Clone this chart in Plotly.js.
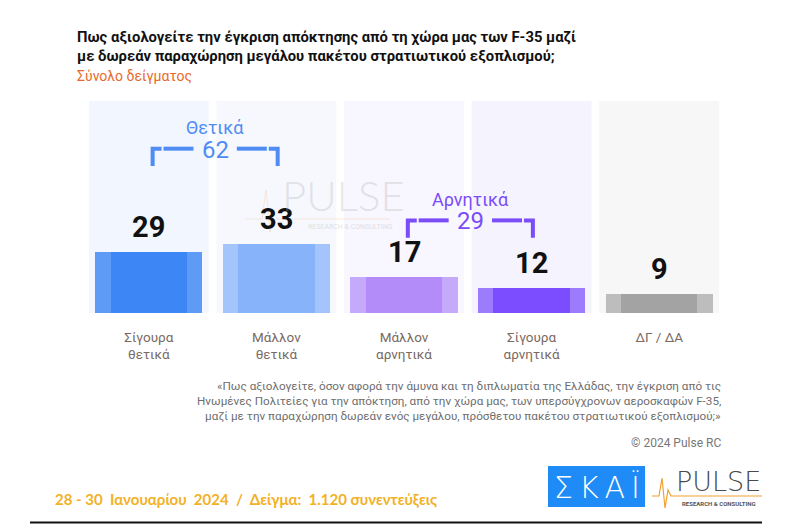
<!DOCTYPE html>
<html>
<head>
<meta charset="utf-8">
<script src="https://cdn.plot.ly/plotly-3.0.1.min.js"></script>
<style>
  html, body { margin: 0; padding: 0; background: #ffffff; }
  #chart { width: 795px; height: 526px; }
</style>
</head>
<body>
<div id="chart"></div>
<script>
// Survey answers and their shares (%)
const categories = ['Σίγουρα<br>θετικά', 'Μάλλον<br>θετικά', 'Μάλλον<br>αρνητικά', 'Σίγουρα<br>αρνητικά', 'ΔΓ / ΔΑ'];
const values = [29, 33, 17, 12, 9];

// Grouped totals shown with brackets
const groupNames = ['Θετικά', 'Αρνητικά'];
const groupTotals = [62, 29];
const groupMembers = [[0, 1], [2, 3]];

// Colours: bar centre, bar edge, column background
const barCore = ['#3D86F5', '#87B3FA', '#B38CFA', '#7C4DFF', '#A3A3A3'];
const barEdge = ['#5E9BF7', '#A3C5FB', '#C5A9FB', '#9C7BFD', '#BDBDBD'];
const columnBg = ['#F2F6FE', '#F6F8FE', '#F8F6FE', '#F5F3FE', '#F7F7F7'];
const groupColors = ['#4F8CF3', '#7A4DF8'];

// Plot frame in pixels
const W = 795, H = 526;
const M = {l: 85, r: 72, t: 101, b: 213};
const PW = W - M.l - M.r, PH = H - M.t - M.b;
const px = x => (x - M.l) / PW;          // pixel x -> paper x
const py = y => (H - M.b - y) / PH;      // pixel y -> paper y
const Y_MAX = 101.4;

const xs = categories.map((_, i) => i);

const traces = [
  {
    type: 'bar', x: xs, y: values, width: 0.84,
    marker: {color: barEdge, line: {width: 0}},
    hoverinfo: 'skip', showlegend: false
  },
  {
    type: 'bar', x: xs, y: values, width: 0.6,
    marker: {color: barCore, line: {width: 0}},
    hoverinfo: 'skip', showlegend: false
  }
];

const shapes = [];
const annotations = [];

// light background column behind each answer
xs.forEach(i => {
  shapes.push({
    type: 'rect', layer: 'below', xref: 'x', yref: 'paper',
    x0: i - 0.47, x1: i + 0.47, y0: 0, y1: 1,
    fillcolor: columnBg[i], line: {width: 0}
  });
});

// value labels above bars
values.forEach((v, i) => {
  annotations.push({
    x: i, y: v, xref: 'x', yref: 'y', text: String(v),
    showarrow: false, yanchor: 'middle', yshift: 25,
    font: {family: 'Roboto', size: 29, color: '#111111', weight: 700}
  });
});

// group brackets with totals
const bracketTop = [78.6, 44.3];
const bracketDrop = 8.3;
groupMembers.forEach((m, g) => {
  const a = m[0] + 0.03, b = m[1] + 0.01;
  const mid = (a + b) / 2;
  const yt = bracketTop[g], yb = yt - bracketDrop;
  const col = groupColors[g];
  const gapHalf = 0.17;
  const lineStyle = {color: col, width: 4};
  // left corner and dash
  shapes.push({type: 'path', xref: 'x', yref: 'y', line: lineStyle,
    path: `M ${a} ${yb} L ${a} ${yt} L ${a + 0.07} ${yt}`});
  shapes.push({type: 'line', xref: 'x', yref: 'y', line: lineStyle,
    x0: a + 0.085, x1: mid - gapHalf, y0: yt, y1: yt});
  // right dash and corner
  shapes.push({type: 'line', xref: 'x', yref: 'y', line: lineStyle,
    x0: mid + gapHalf, x1: b - 0.085, y0: yt, y1: yt});
  shapes.push({type: 'path', xref: 'x', yref: 'y', line: lineStyle,
    path: `M ${b - 0.07} ${yt} L ${b} ${yt} L ${b} ${yb}`});
  annotations.push({
    x: mid, y: yt, xref: 'x', yref: 'y', text: String(groupTotals[g]),
    showarrow: false, yanchor: 'middle', yshift: -1,
    font: {family: 'Roboto', size: 24, color: col}
  });
  annotations.push({
    x: mid, y: yt, xref: 'x', yref: 'y', text: groupNames[g],
    showarrow: false, yanchor: 'middle', yshift: 21,
    font: {family: 'Roboto', size: 18, color: col}
  });
});

// faint brand watermark over the plot
annotations.push({
  x: px(343), y: py(195), xref: 'paper', yref: 'paper', text: 'PULSE',
  showarrow: false, xanchor: 'center', yanchor: 'middle',
  font: {family: 'Lato', size: 42, color: 'rgba(170,170,170,0.30)', weight: 300}
});
annotations.push({
  x: px(350), y: py(227), xref: 'paper', yref: 'paper', text: 'RESEARCH & CONSULTING',
  showarrow: false, xanchor: 'center', yanchor: 'middle',
  font: {family: 'Roboto', size: 7, color: 'rgba(170,170,170,0.35)'}
});
shapes.push({
  type: 'path', xref: 'paper', yref: 'paper',
  line: {color: 'rgba(240,150,60,0.18)', width: 1},
  path: `M ${px(245)} ${py(219)} L ${px(262)} ${py(219)} L ${px(266)} ${py(190)} L ${px(270)} ${py(232)} L ${px(273)} ${py(212)} L ${px(277)} ${py(219)} L ${px(390)} ${py(219)}`
});

// title and subtitle
annotations.push({
  x: px(75), y: py(47), xref: 'paper', yref: 'paper', xanchor: 'left', yanchor: 'middle', align: 'left',
  text: 'Πως αξιολογείτε την έγκριση απόκτησης από τη χώρα μας των F-35 μαζί<br>με δωρεάν παραχώρηση μεγάλου πακέτου στρατιωτικού εξοπλισμού;',
  showarrow: false, font: {family: 'Roboto', size: 14.8, color: '#111111', weight: 700}
});
annotations.push({
  x: px(75), y: py(76), xref: 'paper', yref: 'paper', xanchor: 'left', yanchor: 'middle',
  text: 'Σύνολο δείγματος', showarrow: false,
  font: {family: 'Roboto', size: 14, color: '#E8692A'}
});

// question wording, right aligned
const noteLines = [
  '«Πως αξιολογείτε, όσον αφορά την άμυνα και τη διπλωματία της Ελλάδας, την έγκριση από τις',
  'Ηνωμένες Πολιτείες για την απόκτηση, από την χώρα μας, των υπερσύγχρονων αεροσκαφών F-35,',
  'μαζί με την παραχώρηση δωρεάν ενός μεγάλου, πρόσθετου πακέτου στρατιωτικού εξοπλισμού;»'
];
noteLines.forEach((t, k) => {
  annotations.push({
    x: px(723), y: py(386 + 15 * k), xref: 'paper', yref: 'paper', xanchor: 'right', yanchor: 'middle',
    text: t, showarrow: false, font: {family: 'Roboto', size: 11.7, color: '#6E6E6E'}
  });
});
annotations.push({
  x: px(723), y: py(443), xref: 'paper', yref: 'paper', xanchor: 'right', yanchor: 'middle',
  text: '© 2024 Pulse RC', showarrow: false, font: {family: 'Roboto', size: 12, color: '#777777'}
});

// fieldwork dates and sample size
annotations.push({
  x: px(53), y: py(499), xref: 'paper', yref: 'paper', xanchor: 'left', yanchor: 'middle',
  text: '28 - 30\u00a0 Ιανουαρίου\u00a0 2024\u00a0 /\u00a0 Δείγμα:\u00a0 1.120 συνεντεύξεις',
  showarrow: false, font: {family: 'Lato', size: 15, color: '#F2B126', weight: 700}
});

// broadcaster badge
shapes.push({
  type: 'rect', xref: 'paper', yref: 'paper',
  x0: px(548), x1: px(645), y0: py(507), y1: py(466),
  fillcolor: '#1E8BF7', line: {width: 0}
});
annotations.push({
  x: px(596.5), y: py(487), xref: 'paper', yref: 'paper', xanchor: 'center', yanchor: 'middle',
  text: 'Σ\u2009Κ\u2009Α\u2009Ϊ', showarrow: false, font: {family: 'DejaVu Sans', size: 30, color: '#ffffff', weight: 300}
});

// research company mark
annotations.push({
  x: px(718), y: py(481), xref: 'paper', yref: 'paper', xanchor: 'center', yanchor: 'middle',
  text: 'PULSE', showarrow: false, font: {family: 'DejaVu Sans', size: 27, color: '#4A4A4A', weight: 300}
});
annotations.push({
  x: px(719), y: py(503), xref: 'paper', yref: 'paper', xanchor: 'center', yanchor: 'middle',
  text: 'RESEARCH & CONSULTING', showarrow: false, font: {family: 'Roboto', size: 6, color: '#555555', weight: 700}
});
shapes.push({
  type: 'path', xref: 'paper', yref: 'paper',
  line: {color: '#F0A030', width: 1.2},
  path: `M ${px(652)} ${py(496)} L ${px(659)} ${py(496)} L ${px(662)} ${py(478)} L ${px(665)} ${py(508)} L ${px(668)} ${py(490)} L ${px(671)} ${py(496)} L ${px(762)} ${py(496)}`
});

// footer rule
shapes.push({
  type: 'line', xref: 'paper', yref: 'paper',
  x0: px(30), x1: px(762), y0: py(522.5), y1: py(522.5),
  line: {color: '#111111', width: 2}
});

const layout = {
  width: W, height: H,
  margin: M,
  paper_bgcolor: '#ffffff', plot_bgcolor: '#ffffff',
  barmode: 'overlay', bargap: 0,
  showlegend: false,
  xaxis: {
    range: [-0.5, 4.5], tickvals: xs, ticktext: categories,
    showgrid: false, zeroline: false, showline: false, ticks: '',
    ticklabelstandoff: 14,
    tickfont: {family: 'Roboto', size: 13.5, color: '#7A6A62'},
    fixedrange: true
  },
  yaxis: {
    range: [0, Y_MAX], visible: false, fixedrange: true
  },
  shapes: shapes,
  annotations: annotations
};

Plotly.newPlot('chart', traces, layout, {displayModeBar: false, staticPlot: true});
</script>
</body>
</html>
